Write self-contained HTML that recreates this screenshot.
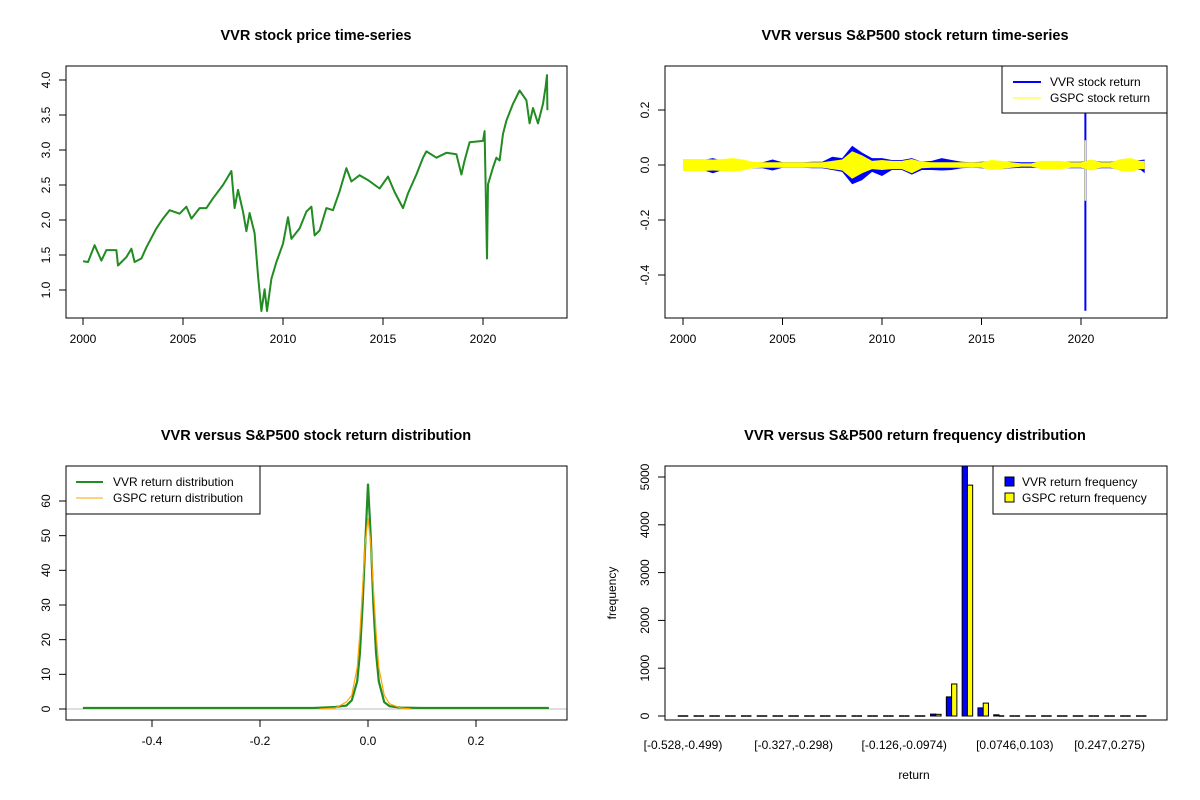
<!DOCTYPE html>
<html><head><meta charset="utf-8">
<style>
body{margin:0;background:#fff;}
svg{display:block;font-family:"Liberation Sans",Arial,sans-serif;}
.t{font-weight:bold;font-size:14.5px;text-anchor:middle;}
.tk{font-size:12px;}
</style></head>
<body>
<svg id="c" width="1200" height="800" viewBox="0 0 1200 800">
<rect width="1200" height="800" fill="#fff"/>
</svg>
<script>
// ---------- Panel 1 data: VVR price ----------
const priceYears=[2000.00,2000.25,2000.58,2000.92,2001.17,2001.67,2001.75,2002.17,2002.42,2002.58,2002.92,2003.17,2003.67,2004.00,2004.33,2004.83,2005.17,2005.42,2005.83,2006.17,2006.50,2007.00,2007.42,2007.58,2007.75,2008.00,2008.17,2008.33,2008.58,2008.75,2008.92,2009.08,2009.20,2009.42,2009.67,2010.00,2010.25,2010.42,2010.83,2011.17,2011.42,2011.58,2011.83,2012.17,2012.50,2012.83,2013.17,2013.42,2013.83,2014.25,2014.83,2015.25,2015.58,2016.00,2016.25,2016.67,2017.00,2017.17,2017.67,2018.17,2018.67,2018.92,2019.08,2019.33,2020.00,2020.08,2020.20,2020.25,2020.50,2020.67,2020.83,2021.00,2021.17,2021.50,2021.83,2022.17,2022.33,2022.50,2022.75,2023.00,2023.13,2023.20,2023.22];
const priceValues=[1.41,1.40,1.64,1.42,1.57,1.57,1.35,1.47,1.59,1.40,1.45,1.61,1.88,2.02,2.14,2.09,2.19,2.02,2.17,2.17,2.31,2.50,2.70,2.17,2.43,2.12,1.84,2.10,1.81,1.21,0.70,1.01,0.70,1.16,1.40,1.66,2.04,1.73,1.88,2.12,2.19,1.78,1.85,2.17,2.14,2.41,2.74,2.55,2.64,2.57,2.45,2.62,2.40,2.17,2.38,2.65,2.89,2.98,2.89,2.96,2.94,2.65,2.85,3.11,3.13,3.27,1.45,2.51,2.75,2.89,2.85,3.23,3.42,3.66,3.85,3.71,3.38,3.60,3.38,3.66,3.90,4.07,3.57];
const yearTicks=[2000,2005,2010,2015,2020];
const priceTicks=[1.0,1.5,2.0,2.5,3.0,3.5,4.0];
// ---------- Panel 2 data: returns envelopes (half-year) ----------
const retYears=[2000,2000.5,2001,2001.5,2002,2002.5,2003,2003.5,2004,2004.5,2005,2005.5,2006,2006.5,2007,2007.5,2008,2008.5,2009,2009.5,2010,2010.5,2011,2011.5,2012,2012.5,2013,2013.5,2014,2014.5,2015,2015.5,2016,2016.5,2017,2017.5,2018,2018.5,2019,2019.5,2020,2020.5,2021,2021.5,2022,2022.5,2023,2023.2];
const vvrHi=[0.02,0.018,0.018,0.025,0.015,0.012,0.012,0.01,0.01,0.02,0.01,0.01,0.01,0.012,0.012,0.03,0.025,0.07,0.045,0.025,0.025,0.018,0.018,0.025,0.012,0.015,0.025,0.018,0.012,0.01,0.012,0.015,0.012,0.012,0.01,0.01,0.012,0.012,0.012,0.012,0.012,0.018,0.012,0.012,0.018,0.018,0.018,0.02];
const vvrLo=[-0.02,-0.018,-0.018,-0.03,-0.018,-0.018,-0.012,-0.012,-0.012,-0.02,-0.01,-0.01,-0.01,-0.012,-0.012,-0.018,-0.025,-0.07,-0.055,-0.025,-0.04,-0.018,-0.018,-0.035,-0.018,-0.018,-0.02,-0.018,-0.012,-0.01,-0.012,-0.015,-0.015,-0.012,-0.01,-0.01,-0.012,-0.012,-0.012,-0.012,-0.012,-0.018,-0.012,-0.012,-0.018,-0.018,-0.018,-0.03];
const gspcHi=[0.022,0.022,0.022,0.02,0.022,0.025,0.02,0.012,0.01,0.01,0.01,0.01,0.01,0.01,0.01,0.015,0.02,0.05,0.035,0.015,0.018,0.015,0.015,0.022,0.012,0.01,0.01,0.01,0.01,0.01,0.01,0.018,0.015,0.01,0.006,0.006,0.015,0.015,0.015,0.01,0.01,0.02,0.01,0.01,0.022,0.025,0.015,0.015];
const gspcLo=[-0.022,-0.022,-0.022,-0.02,-0.022,-0.025,-0.02,-0.012,-0.01,-0.01,-0.01,-0.01,-0.01,-0.01,-0.01,-0.015,-0.02,-0.05,-0.03,-0.015,-0.018,-0.015,-0.015,-0.03,-0.012,-0.01,-0.01,-0.01,-0.01,-0.01,-0.01,-0.018,-0.015,-0.01,-0.006,-0.006,-0.015,-0.015,-0.015,-0.01,-0.01,-0.02,-0.01,-0.01,-0.022,-0.025,-0.015,-0.015];
const spikeYears=[2020.22];
const spikeVvrHi=[0.23];
const spikeVvrLo=[-0.53];
const spikeGspcHi=[0.09];
const spikeGspcLo=[-0.13];
const retTicks=[-0.4,-0.2,0.0,0.2];
// ---------- Panel 3 data: densities ----------
const vvrDensX=[-0.528,-0.1,-0.06,-0.04,-0.03,-0.02,-0.015,-0.01,-0.005,0,0.005,0.01,0.015,0.02,0.03,0.04,0.06,0.1,0.335];
const vvrDensY=[0.3,0.3,0.6,1,2.5,8,16,30,48,65,50,30,16,8,2,0.8,0.4,0.3,0.3];
const gspcDensX=[-0.09,-0.06,-0.04,-0.03,-0.02,-0.015,-0.01,-0.005,0,0.005,0.01,0.015,0.02,0.03,0.04,0.06,0.08];
const gspcDensY=[0,0.3,2,4,12,22,35,48,55,48,35,22,12,4,1.5,0.3,0];
const densXTicks=[-0.4,-0.2,0.0,0.2];
const densYTicks=[0,10,20,30,40,50,60];
// ---------- Panel 4 data: frequency histogram (30 bins) ----------
const binLabels=["[-0.528,-0.499)","[-0.327,-0.298)","[-0.126,-0.0974)","[0.0746,0.103)","[0.247,0.275)"];
const binLabelIdx=[0,7,14,21,27];
const vvrFreq=[0,0,0,0,0,0,0,0,0,0,0,0,0,0,0,20,40,400,5230,170,25,15,0,0,0,0,0,0,0,0];
const gspcFreq=[0,0,0,0,0,0,0,0,0,0,0,0,0,0,0,15,35,670,4830,270,20,5,0,0,0,0,0,0,0,0];
const freqTicks=[0,1000,2000,3000,4000,5000];

const NS="http://www.w3.org/2000/svg";
const svg=document.getElementById('c');
function mk(tag,attrs,parent){const e=document.createElementNS(NS,tag);for(const k in attrs)e.setAttribute(k,attrs[k]);(parent||svg).appendChild(e);return e;}
function txt(s,x,y,cls,extra,parent){const e=mk('text',Object.assign({x:x,y:y,class:cls},extra||{}),parent);e.textContent=s;return e;}
function lin(a0,a1,p0,p1){return v=>p0+(v-a0)*(p1-p0)/(a1-a0);}
function box(x0,y0,x1,y1,g){mk('rect',{x:x0,y:y0,width:x1-x0,height:y1-y0,fill:'none',stroke:'#000','stroke-width':1},g);}
function xTicks(vals,fx,yb,fmt,g){vals.forEach((v,i)=>{const x=fx(v);mk('line',{x1:x,x2:x,y1:yb,y2:yb+7,stroke:'#000'},g);txt(fmt(v),x,yb+25,'tk',{'text-anchor':'middle'},g);});
 mk('line',{x1:fx(vals[0]),x2:fx(vals[vals.length-1]),y1:yb,y2:yb,stroke:'#000'},g);}
function yTicks(vals,fy,xl,fmt,g){vals.forEach(v=>{const y=fy(v);mk('line',{x1:xl,x2:xl-7,y1:y,y2:y,stroke:'#000'},g);const lx=xl-16;txt(fmt(v),lx,y,'tk',{'text-anchor':'middle',transform:`rotate(-90 ${lx} ${y})`},g);});
 mk('line',{x1:xl,x2:xl,y1:fy(vals[0]),y2:fy(vals[vals.length-1]),stroke:'#000'},g);}

// ===== Panel 1 =====
let g1=mk('g',{});


txt('VVR stock price time-series',316,40,'t',{},g1);
const fx1=lin(2000,2020,83,483), fy1=lin(1,4,290,80);
let pts=priceYears.map((y,i)=>fx1(y)+','+fy1(priceValues[i])).join(' ');
let pl=mk('polyline',{points:pts,fill:'none',stroke:'#228b22','stroke-width':2,'stroke-linejoin':'round'},g1);


box(66,66,567,318,g1);
xTicks(yearTicks,fx1,318,v=>String(v),g1);
yTicks(priceTicks,fy1,66,v=>v.toFixed(1),g1);

// ===== Panel 2 =====
let g2=mk('g',{});


txt('VVR versus S&P500 stock return time-series',915,40,'t',{},g2);
const fx2=lin(2000,2020,683,1081), fy2=lin(0,0.2,165,110);
function band(xs,hi,lo,color,name){const top=xs.map((x,i)=>fx2(x)+','+fy2(hi[i]));const bot=xs.map((x,i)=>fx2(x)+','+fy2(lo[i])).reverse();
 const p=mk('polygon',{points:top.concat(bot).join(' '),fill:color,stroke:'none'},g2);
 
 }
band(retYears,vvrHi,vvrLo,'#0000ff','vvr-return-band');
spikeYears.forEach((y,i)=>{const s=mk('line',{x1:fx2(y),x2:fx2(y),y1:fy2(spikeVvrHi[i]),y2:fy2(spikeVvrLo[i]),stroke:'#0000ff','stroke-width':2},g2);
 
 });
band(retYears,gspcHi,gspcLo,'#ffff00','gspc-return-band');
spikeYears.forEach((y,i)=>{const s=mk('line',{x1:fx2(y),x2:fx2(y),y1:fy2(spikeGspcHi[i]),y2:fy2(spikeGspcLo[i]),stroke:'#ffff00','stroke-width':1.5},g2);
 
 });
box(665,66,1167,318,g2);
xTicks(yearTicks,fx2,318,v=>String(v),g2);
yTicks(retTicks,fy2,665,v=>v.toFixed(1),g2);
let lg2=mk('g',{},g2);


mk('rect',{x:1002,y:66,width:165,height:47,fill:'#fff',stroke:'#000'},lg2);
mk('line',{x1:1013,x2:1041,y1:82,y2:82,stroke:'#0000ff','stroke-width':2},lg2);
mk('line',{x1:1013,x2:1041,y1:98,y2:98,stroke:'#ffff00','stroke-width':1},lg2);
txt('VVR stock return',1050,86,'tk',{},lg2);
txt('GSPC stock return',1050,102,'tk',{},lg2);

// ===== Panel 3 =====
let g3=mk('g',{});


txt('VVR versus S&P500 stock return distribution',316,440,'t',{},g3);
const fx3=lin(0,0.2,368,476), fy3=lin(0,60,709,501);
let h0=mk('line',{x1:66,x2:567,y1:fy3(0),y2:fy3(0),stroke:'#bebebe'},g3);


let d1=mk('polyline',{points:vvrDensX.map((x,i)=>fx3(x)+','+fy3(vvrDensY[i])).join(' '),fill:'none',stroke:'#228b22','stroke-width':2.2},g3);


let d2=mk('polyline',{points:gspcDensX.map((x,i)=>fx3(x)+','+fy3(gspcDensY[i])).join(' '),fill:'none',stroke:'#ffa500','stroke-width':1.2},g3);


box(66,466,567,720,g3);
xTicks(densXTicks,fx3,720,v=>v.toFixed(1),g3);
yTicks(densYTicks,fy3,66,v=>String(v),g3);
let lg3=mk('g',{},g3);


mk('rect',{x:66,y:466,width:194,height:48,fill:'#fff',stroke:'#000'},lg3);
mk('line',{x1:76,x2:103,y1:482,y2:482,stroke:'#228b22','stroke-width':2},lg3);
mk('line',{x1:76,x2:103,y1:498,y2:498,stroke:'#ffa500','stroke-width':1},lg3);
txt('VVR return distribution',113,486,'tk',{},lg3);
txt('GSPC return distribution',113,502,'tk',{},lg3);

// ===== Panel 4 =====
let g4=mk('g',{});


txt('VVR versus S&P500 return frequency distribution',915,440,'t',{},g4);
const gw=15.8, bw=gw/3;
const fx4=i=>683+i*gw, fy4=lin(0,5000,716,477);
function bar(x,v,color,name){
 const top=Math.max(466,fy4(v)), base=fy4(0);
 let b;
 if(base-top<1){b=mk('line',{x1:x,x2:x+bw,y1:base,y2:base,stroke:'#000','stroke-width':1.5},g4);}
 else{b=mk('rect',{x:x,y:top,width:bw,height:base-top,fill:color,stroke:'#000','stroke-width':1},g4);}
 
 }
vvrFreq.forEach((v,i)=>{const c=fx4(i);
 bar(c-bw,v,'#0000ff','vvr-freq-bar');
 bar(c,gspcFreq[i],'#ffff00','gspc-freq-bar');});
box(665,466,1167,720,g4);
binLabelIdx.forEach((k,i)=>{txt(binLabels[i],fx4(k),749,'tk',{'text-anchor':'middle'},g4);});
yTicks(freqTicks,fy4,665,v=>String(v),g4);
txt('return',914,779,'tk',{'text-anchor':'middle'},g4);
txt('frequency',616,593,'tk',{'text-anchor':'middle',transform:'rotate(-90 616 593)'},g4);
let lg4=mk('g',{},g4);


mk('rect',{x:993,y:466,width:174,height:48,fill:'#fff',stroke:'#000'},lg4);
mk('rect',{x:1005,y:477,width:9,height:9,fill:'#0000ff',stroke:'#000'},lg4);
mk('rect',{x:1005,y:493,width:9,height:9,fill:'#ffff00',stroke:'#000'},lg4);
txt('VVR return frequency',1022,486,'tk',{},lg4);
txt('GSPC return frequency',1022,502,'tk',{},lg4);
</script>
</body></html>
